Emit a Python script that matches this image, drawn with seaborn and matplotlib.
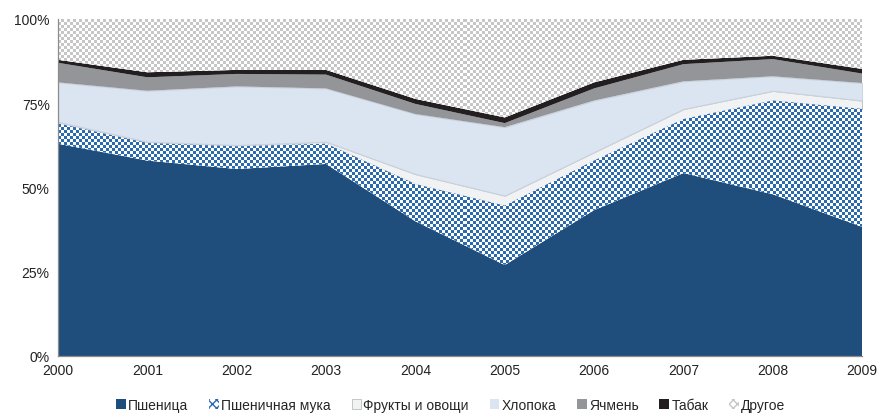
import matplotlib
matplotlib.use("Agg")
import matplotlib.pyplot as plt
import matplotlib.ticker as mtick
from matplotlib.patches import Patch
import seaborn as sns
import numpy as np
import pandas as pd

sns.set_style("white")
plt.rcParams['font.family'] = ['Liberation Sans', 'DejaVu Sans']
plt.rcParams['font.size'] = 8

# ====================== DATA ======================
years = [2000, 2001, 2002, 2003, 2004, 2005, 2006, 2007, 2008, 2009]
categories = ['Пшеница', 'Пшеничная мука', 'Фрукты и овощи', 'Хлопока', 'Ячмень', 'Табак', 'Другое']

wheat   = [63.0, 58.0, 55.5, 57.0, 40.0, 27.0, 43.3, 54.3, 48.0, 38.3]
flour   = [6.0, 5.2, 6.7, 6.0, 11.0, 17.6, 14.7, 16.0, 27.8, 35.0]
fruits  = [0.5, 0.4, 0.4, 0.6, 3.0, 3.0, 2.5, 3.0, 2.9, 2.5]
cotton  = [11.7, 15.1, 17.4, 15.8, 17.8, 20.3, 15.3, 8.2, 4.3, 5.2]
barley  = [5.8, 4.0, 3.7, 4.1, 3.0, 1.2, 3.6, 5.1, 5.1, 2.8]
tobacco = [0.9, 1.5, 1.2, 1.4, 1.5, 1.7, 1.8, 1.3, 1.0, 1.4]
other   = [12.1, 15.8, 15.1, 15.1, 23.7, 29.2, 18.8, 12.1, 10.9, 14.8]

df = pd.DataFrame({'year': years, 'Пшеница': wheat, 'Пшеничная мука': flour,
                   'Фрукты и овощи': fruits, 'Хлопока': cotton, 'Ячмень': barley,
                   'Табак': tobacco, 'Другое': other}).set_index('year')
shares = df.div(df.sum(axis=1), axis=0)

colors = ['#1F4E7D', '#FFFFFF', '#F0F2F4', '#DBE5F1', '#939598', '#231F20', '#FFFFFF']
edges  = ['none', 'none', '#BDBDBD', '#C9D2DD', 'none', 'none', 'none']

# ====================== PLOT ======================
fig = plt.figure(figsize=(8.77, 4.14), dpi=100)
ax = fig.add_axes([0.0661, 0.1377, 0.917, 0.814])

polys = ax.stackplot(shares.index, [shares[c] for c in categories], colors=colors,
                     edgecolor='none', linewidth=0)
for p, ec in zip(polys, edges):
    if ec != 'none':
        p.set_edgecolor(ec)
        p.set_linewidth(0.8)


def checker(ax, poly, c1, c2, cell_px=3):
    # pixel-sized checkerboard clipped to one stacked band
    nx, ny = int(804 / cell_px), int(337 / cell_px)
    ii, jj = np.indices((ny, nx))
    board = (ii + jj) % 2
    cmap = matplotlib.colors.ListedColormap([c1, c2])
    im = ax.imshow(board, cmap=cmap, extent=[2000, 2009, 0, 1], aspect='auto',
                   interpolation='nearest', origin='lower', zorder=poly.get_zorder() + 0.1)
    im.set_clip_path(poly.get_paths()[0], poly.get_transform())


checker(ax, polys[1], '#2C6AB0', '#FFFFFF')
checker(ax, polys[6], '#C6C6C6', '#FFFFFF')

ax.set_xlim(2000, 2009)
ax.set_ylim(0, 1)
ax.set_xticks(years)
ax.set_yticks([0, 0.25, 0.5, 0.75, 1.0])
ax.yaxis.set_major_formatter(mtick.PercentFormatter(1.0, decimals=0))
ax.tick_params(axis='both', which='major', length=3, width=0.8, color='#8C8C8C',
               labelsize=10, colors='#222222', direction='out', pad=3)
ax.tick_params(axis='x', pad=2)
for s in ['top', 'right']:
    ax.spines[s].set_visible(False)
for s in ['left', 'bottom']:
    ax.spines[s].set_color('#8C8C8C')
    ax.spines[s].set_linewidth(0.9)
    ax.spines[s].set_zorder(10)
ax.set_xlabel('')
ax.set_ylabel('')

handles = [
    Patch(facecolor='#1F4E7D', edgecolor='none'),
    Patch(facecolor='white', edgecolor='#2C6AB0', hatch='xxxx', linewidth=0),
    Patch(facecolor='#F0F2F4', edgecolor='#BDBDBD', linewidth=0.6),
    Patch(facecolor='#DBE5F1', edgecolor='none'),
    Patch(facecolor='#939598', edgecolor='none'),
    Patch(facecolor='#231F20', edgecolor='none'),
    Patch(facecolor='white', edgecolor='#C6C6C6', hatch='xxxx', linewidth=0),
]
fig.legend(handles, categories, loc='center', bbox_to_anchor=(0.514, 0.02), ncol=7,
           frameon=False, fontsize=10, handlelength=0.7, handleheight=0.7,
           handletextpad=0.15, columnspacing=1.5, borderaxespad=0)

plt.savefig('out.png', dpi=100)
